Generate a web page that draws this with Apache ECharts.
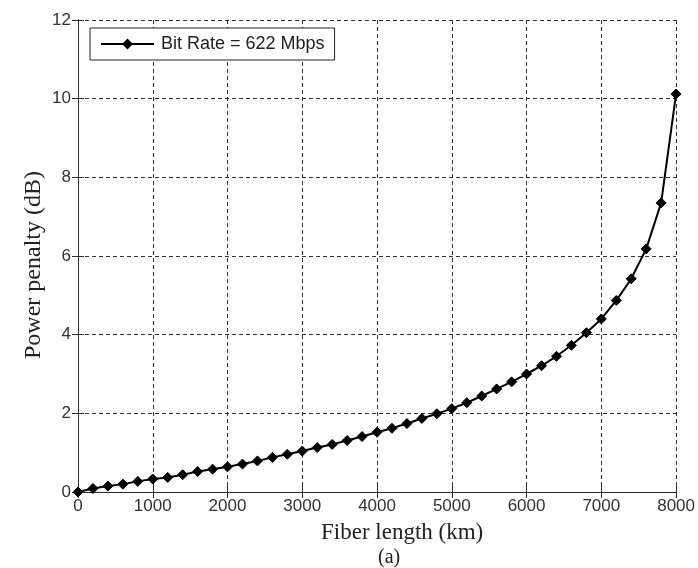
<!DOCTYPE html>
<html>
<head>
<meta charset="utf-8">
<title>Power penalty vs fiber length</title>
<script src="https://cdn.jsdelivr.net/npm/echarts@6/dist/echarts.min.js"></script>
<style>
  html, body { margin: 0; padding: 0; background: #fff; }
  #chart { width: 698px; height: 568px; }
</style>
</head>
<body>
<div id="chart"></div>
<script>
// Fiber length (km), sampled every 200 km
const fiberLength = [
  0, 200, 400, 600, 800, 1000, 1200, 1400, 1600, 1800,
  2000, 2200, 2400, 2600, 2800, 3000, 3200, 3400, 3600, 3800,
  4000, 4200, 4400, 4600, 4800, 5000, 5200, 5400, 5600, 5800,
  6000, 6200, 6400, 6600, 6800, 7000, 7200, 7400, 7600, 7800, 8000
];
// Power penalty (dB) at 622 Mbps
const powerPenalty = [
  0.00, 0.09, 0.15, 0.20, 0.27, 0.33, 0.37, 0.44, 0.52, 0.58,
  0.64, 0.71, 0.79, 0.88, 0.96, 1.04, 1.13, 1.21, 1.31, 1.41,
  1.52, 1.62, 1.74, 1.87, 1.99, 2.12, 2.27, 2.44, 2.62, 2.80,
  3.00, 3.21, 3.45, 3.73, 4.05, 4.40, 4.87, 5.42, 6.18, 7.35, 10.12
];
const seriesName = 'Bit Rate = 622 Mbps';
const xTitle = 'Fiber length (km)';
const yTitle = 'Power penalty (dB)';
const caption = '(a)';

const frameColor = '#2b2b2b';
const gridLine = { show: true, lineStyle: { color: '#333', type: [4, 3], width: 1 } };
const sans = 'Liberation Sans, Arial, sans-serif';
const serif = 'Liberation Serif, Times New Roman, serif';

const chart = echarts.init(document.getElementById('chart'), null, { renderer: 'canvas' });

const points = fiberLength.map((x, i) => [x, powerPenalty[i]]);

chart.setOption({
  animation: false,
  backgroundColor: '#fff',
  grid: { left: 78, right: 20, top: 20, bottom: 76, containLabel: false },
  legend: {
    left: 90, top: 28,
    orient: 'horizontal',
    backgroundColor: '#fff',
    borderColor: '#222',
    borderWidth: 1,
    borderRadius: 0,
    padding: [7, 10, 7, 10],
    itemWidth: 53,
    itemHeight: 10,
    itemGap: 0,
    textStyle: { fontFamily: sans, fontSize: 18, color: '#222', padding: [0, 0, 0, 2] },
    data: [seriesName]
  },
  xAxis: [{
    type: 'value', min: 0, max: 8000, interval: 1000,
    axisLine: { show: true, lineStyle: { color: frameColor, width: 1 } },
    axisTick: { show: true, inside: true, length: 6, lineStyle: { color: frameColor } },
    axisLabel: { fontFamily: sans, fontSize: 17, color: '#333', margin: 6, formatter: v => String(v) },
    splitLine: gridLine
  }, {
    type: 'value', min: 0, max: 8000, interval: 1000, position: 'top',
    axisLine: { show: true, lineStyle: { color: frameColor, width: 1 } },
    axisTick: { show: true, inside: true, length: 6, lineStyle: { color: frameColor } },
    axisLabel: { show: false },
    splitLine: { show: false }
  }],
  yAxis: [{
    type: 'value', min: 0, max: 12, interval: 2,
    axisLine: { show: true, lineStyle: { color: frameColor, width: 1 } },
    axisTick: { show: true, inside: true, length: 6, lineStyle: { color: frameColor } },
    axisLabel: { fontFamily: sans, fontSize: 17, color: '#333', margin: 7 },
    splitLine: gridLine
  }, {
    type: 'value', min: 0, max: 12, interval: 2, position: 'right',
    axisLine: { show: true, lineStyle: { color: frameColor, width: 1 } },
    axisTick: { show: true, inside: true, length: 6, lineStyle: { color: frameColor } },
    axisLabel: { show: false },
    splitLine: { show: false }
  }],
  series: [{
    name: seriesName,
    type: 'line',
    xAxisIndex: 0, yAxisIndex: 0,
    data: points,
    symbol: 'diamond',
    symbolSize: 10,
    showAllSymbol: true,
    lineStyle: { color: '#000', width: 2 },
    itemStyle: { color: '#000', borderColor: '#000', borderWidth: 1 },
    z: 5
  }],
  graphic: [
    {
      type: 'text', left: 403 - 82, top: 521,
      style: { text: xTitle, font: '23px ' + serif, fill: '#222' }
    },
    {
      type: 'text', left: 378, top: 548,
      style: { text: caption, font: '20px ' + serif, fill: '#222' }
    },
    {
      type: 'text', x: 22, y: 265, rotation: Math.PI / 2,
      style: { text: yTitle, font: '24px ' + serif, fill: '#222', align: 'center', verticalAlign: 'top' }
    }
  ]
});
</script>
</body>
</html>
